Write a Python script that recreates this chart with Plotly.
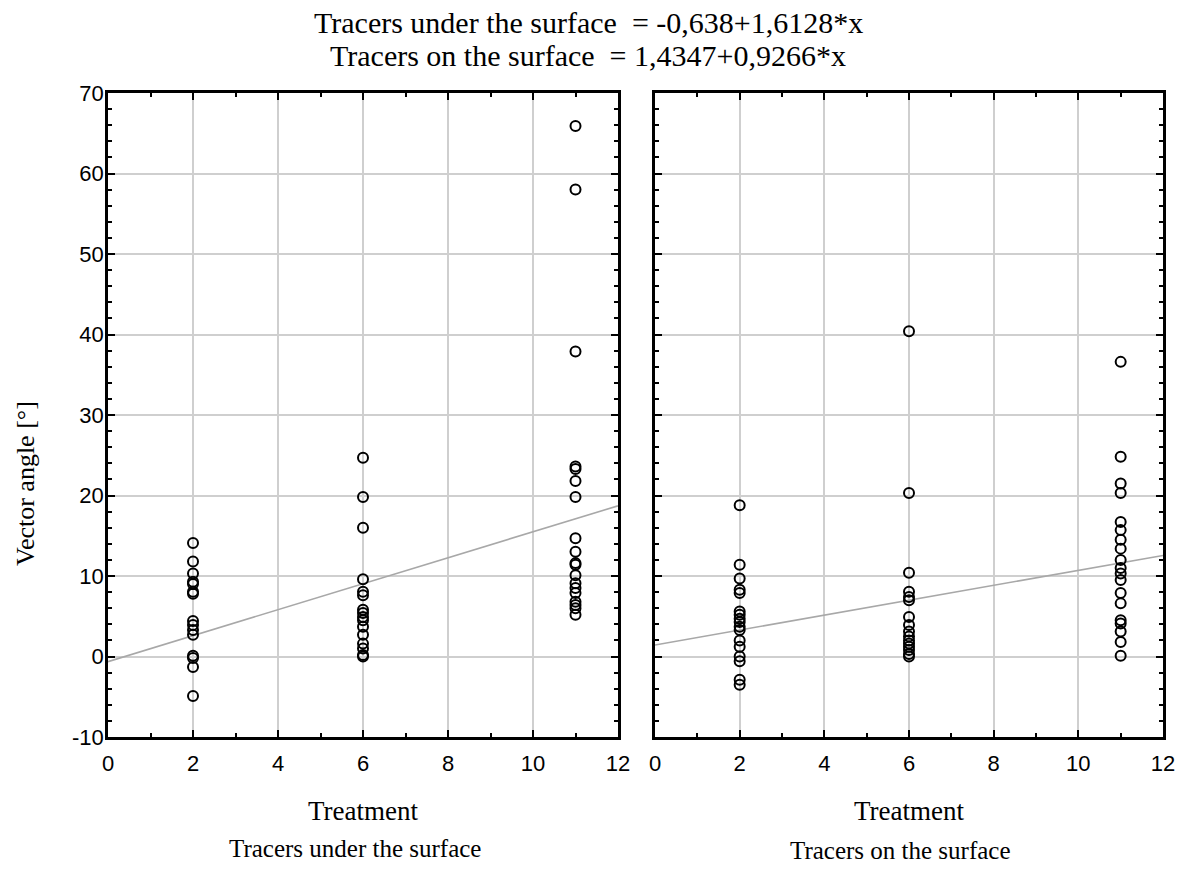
import plotly.graph_objects as go

# Data
treat_under_2 = [14.1, 11.8, 10.3, 9.3, 9.0, 8.05, 7.8, 4.4, 3.9, 3.3, 2.7, 0.1, -0.2, -1.3, -4.9]
treat_under_6 = [24.7, 19.8, 16.0, 9.6, 8.05, 7.6, 5.8, 5.4, 4.9, 4.5, 3.7, 2.7, 1.6, 1.0, 0.2, 0.0]
treat_under_11 = [65.9, 58.0, 37.9, 23.6, 23.3, 21.8, 19.8, 14.7, 13.0, 11.6, 11.4, 10.1, 9.1,
                  8.5, 7.9, 6.8, 6.4, 6.0, 5.2]
treat_on_2 = [18.8, 11.4, 9.7, 8.3, 7.9, 5.6, 5.2, 4.7, 4.3, 3.7, 3.3, 2.0, 1.2, 0.0, -0.6, -2.9, -3.5]
treat_on_6 = [40.4, 20.3, 10.4, 8.05, 7.4, 7.0, 4.9, 3.9, 3.1, 2.5, 2.0, 1.6, 1.2, 0.8, 0.3, 0.0]
treat_on_11 = [36.6, 24.8, 21.5, 20.3, 16.7, 15.7, 14.5, 13.4, 12.0, 11.0, 10.3, 9.5, 7.9, 6.6,
               4.5, 4.1, 3.1, 1.8, 0.1]

fit_under = (-0.638, 1.6128)
fit_on = (1.4347, 0.9266)
fit_x = [0, 12]

x_ticks = [0, 2, 4, 6, 8, 10, 12]
y_ticks = [-10, 0, 10, 20, 30, 40, 50, 60, 70]
y_ticklabels = ["-10", "0", "10", "20", "30", "40", "50", "60", "70"]

title_lines = ["Tracers under the surface\u00a0 = -0,638+1,6128*x",
               "Tracers on the surface\u00a0 = 1,4347+0,9266*x"]
panel_names = ["Tracers under the surface", "Tracers on the surface"]

W, H = 1187, 883
xdom1 = [108 / W, 618 / W]
xdom2 = [655 / W, 1163 / W]
ydom = [1 - 737 / H, 1 - 93 / H]

fig = go.Figure()

def add_panel(xa, ya, groups, fit):
    xs, ys = [], []
    for xv, vals in groups:
        xs += [xv] * len(vals)
        ys += vals
    fig.add_trace(go.Scatter(
        x=fit_x, y=[fit[0] + fit[1] * v for v in fit_x], mode="lines",
        line=dict(color="#a8a8a8", width=1.6), xaxis=xa, yaxis=ya, showlegend=False,
        hoverinfo="skip"))
    fig.add_trace(go.Scatter(
        x=xs, y=ys, mode="markers",
        marker=dict(symbol="circle-open", size=10, color="black", line=dict(width=2)),
        xaxis=xa, yaxis=ya, showlegend=False))

add_panel("x", "y", [(2, treat_under_2), (6, treat_under_6), (11, treat_under_11)], fit_under)
add_panel("x2", "y2", [(2, treat_on_2), (6, treat_on_6), (11, treat_on_11)], fit_on)

tickfont = dict(family="Liberation Sans, Arial", size=22, color="black")

def xaxis(dom, anchor):
    return dict(domain=dom, anchor=anchor, range=[0, 12], tickmode="array", tickvals=x_ticks,
                ticktext=[str(v) for v in x_ticks],
                showline=True, linecolor="black", linewidth=2.5, mirror="ticks",
                ticks="inside", ticklen=7, tickwidth=2, tickcolor="black",
                showgrid=True, gridcolor="#cfcfcf", gridwidth=1.6, zeroline=False,
                tickfont=tickfont, ticklabelstandoff=5,
                minor=dict(dtick=1, tick0=0, ticks="inside", ticklen=4, tickwidth=1.5,
                           tickcolor="black", showgrid=False))

def yaxis(anchor, labels):
    return dict(domain=ydom, anchor=anchor, range=[-10, 70], tickmode="array", tickvals=y_ticks,
                ticktext=y_ticklabels,
                showline=True, linecolor="black", linewidth=2.5, mirror="ticks",
                ticks="inside", ticklen=7, tickwidth=2, tickcolor="black",
                showgrid=True, gridcolor="#cfcfcf", gridwidth=1.6, zeroline=False,
                tickfont=tickfont, showticklabels=labels, ticklabelstandoff=-3,
                minor=dict(dtick=2, tick0=0, ticks="inside", ticklen=4, tickwidth=1.5,
                           tickcolor="black", showgrid=False))

serif_family = "Liberation Serif, Times New Roman"

def ann(text, x, y, size, angle=0):
    return dict(text=text, x=x / W, y=1 - y / H, xref="paper", yref="paper",
                showarrow=False, font=dict(family=serif_family, size=size, color="black"),
                textangle=angle, xanchor="center", yanchor="middle")

annotations = [
    ann(title_lines[0], 588, 22, 30),
    ann(title_lines[1], 588, 55, 30),
    ann("Vector angle [°]", 25, 484, 26, -90),
    ann("Treatment", 363, 811, 27),
    ann("Treatment", 909, 811, 27),
    ann(panel_names[0], 355, 848, 25),
    ann(panel_names[1], 900, 850, 25),
]

fig.update_layout(
    width=W, height=H, margin=dict(l=0, r=0, t=0, b=0, autoexpand=False),
    paper_bgcolor="white", plot_bgcolor="white",
    xaxis=xaxis(xdom1, "y"), yaxis=yaxis("x", True),
    xaxis2=xaxis(xdom2, "y2"), yaxis2=yaxis("x2", False),
    annotations=annotations,
)

fig.write_html("out.html")
